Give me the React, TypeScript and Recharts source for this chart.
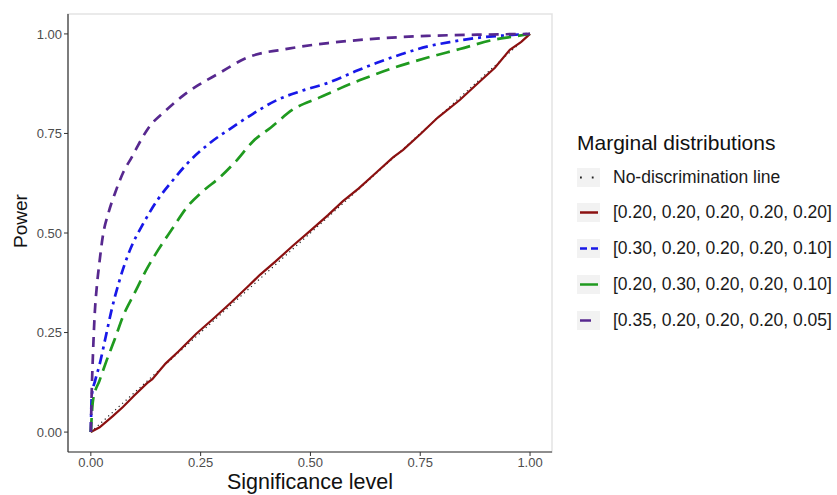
import React from 'react';
import { LineChart, Line, XAxis, YAxis, ReferenceArea } from 'recharts';

const FONT = '"Liberation Sans", Arial, Helvetica, sans-serif';

// Tick values
const xTicks = [0, 0.25, 0.5, 0.75, 1];
const yTicks = [0, 0.25, 0.5, 0.75, 1];

// No-discrimination line
const diagX = [0, 1];
const diagY = [0, 1];

// [0.20, 0.20, 0.20, 0.20, 0.20]
const redX = [0, 0.02, 0.05, 0.073, 0.1, 0.128, 0.14, 0.17, 0.2, 0.24, 0.28, 0.32, 0.36, 0.385, 0.42, 0.46, 0.5, 0.54, 0.574, 0.61, 0.65, 0.688, 0.711, 0.75, 0.79, 0.84, 0.88, 0.92, 0.954, 0.98, 1.0];
const redY = [0, 0.012, 0.04, 0.063, 0.093, 0.123, 0.133, 0.172, 0.203, 0.247, 0.286, 0.326, 0.368, 0.395, 0.428, 0.468, 0.506, 0.545, 0.58, 0.612, 0.652, 0.69, 0.709, 0.748, 0.79, 0.834, 0.875, 0.915, 0.96, 0.98, 1.0];

// [0.30, 0.20, 0.20, 0.20, 0.10]
const blueX = [0, 0.002, 0.01, 0.02, 0.033, 0.048, 0.065, 0.089, 0.12, 0.15, 0.185, 0.22, 0.27, 0.323, 0.37, 0.424, 0.48, 0.54, 0.6, 0.65, 0.71, 0.765, 0.82, 0.88, 0.94, 1.0];
const blueY = [0, 0.09, 0.13, 0.17, 0.235, 0.31, 0.38, 0.457, 0.525, 0.58, 0.63, 0.675, 0.725, 0.766, 0.8, 0.834, 0.857, 0.877, 0.905, 0.927, 0.95, 0.968, 0.98, 0.99, 0.996, 1.0];

// [0.20, 0.30, 0.20, 0.20, 0.10]
const greenX = [0, 0.005, 0.02, 0.036, 0.055, 0.073, 0.1, 0.125, 0.153, 0.185, 0.219, 0.255, 0.294, 0.33, 0.369, 0.41, 0.46, 0.52, 0.613, 0.69, 0.765, 0.84, 0.916, 0.96, 1.0];
const greenY = [0, 0.08, 0.13, 0.18, 0.235, 0.29, 0.35, 0.405, 0.457, 0.51, 0.565, 0.605, 0.64, 0.68, 0.73, 0.765, 0.81, 0.84, 0.884, 0.915, 0.94, 0.962, 0.985, 0.993, 1.0];

// [0.35, 0.20, 0.20, 0.20, 0.05]
const purpleX = [0, 0.002, 0.005, 0.009, 0.014, 0.02, 0.027, 0.04, 0.055, 0.075, 0.093, 0.105, 0.13, 0.173, 0.21, 0.24, 0.29, 0.355, 0.45, 0.54, 0.65, 0.765, 0.88, 1.0];
const purpleY = [0, 0.1, 0.2, 0.3, 0.37, 0.43, 0.49, 0.55, 0.6, 0.655, 0.69, 0.715, 0.762, 0.81, 0.845, 0.868, 0.9, 0.94, 0.963, 0.977, 0.988, 0.995, 0.998, 1.0];

const legendTitle = 'Marginal distributions';
const seriesNames = [
  'No-discrimination line',
  '[0.20, 0.20, 0.20, 0.20, 0.20]',
  '[0.30, 0.20, 0.20, 0.20, 0.10]',
  '[0.20, 0.30, 0.20, 0.20, 0.10]',
  '[0.35, 0.20, 0.20, 0.20, 0.05]',
];

const toPoints = (xs: number[], ys: number[]) => xs.map((x, i) => ({ x, y: ys[i] }));

const series = [
  { name: seriesNames[0], data: toPoints(diagX, diagY), curve: 'linear', color: '#222222', width: 1.2, dash: '1.2 3.5', keyDash: '1.8 10', keyWidth: 2 },
  { name: seriesNames[1], data: toPoints(redX, redY), curve: 'linear', color: '#8b1010', width: 2.2, dash: undefined, keyDash: undefined, keyWidth: 2.5 },
  { name: seriesNames[2], data: toPoints(blueX, blueY), curve: 'monotoneX', color: '#1818e8', width: 2.7, dash: '10 5 3 5', keyDash: '7 4', keyWidth: 2.5 },
  { name: seriesNames[3], data: toPoints(greenX, greenY), curve: 'monotoneX', color: '#1f9a1f', width: 2.7, dash: '14 7', keyDash: undefined, keyWidth: 2.5 },
  { name: seriesNames[4], data: toPoints(purpleX, purpleY), curve: 'monotoneX', color: '#57288f', width: 2.7, dash: '10 7', keyDash: '11 20', keyWidth: 2.5 },
];

const fmt = (v: number) => v.toFixed(2);

const XTitle = (props: any) => {
  const vb = props.viewBox;
  return (
    <text x={vb.x + vb.width / 2} y={489} textAnchor="middle" fontSize={21.5} fontFamily={FONT} fill="#111">
      Significance level
    </text>
  );
};

const YTitle = () => (
  <text x={27} y={221} transform="rotate(-90, 27, 221)" textAnchor="middle" fontSize={19} fontFamily={FONT} fill="#111">
    Power
  </text>
);

const LegendBox = () => (
  <div style={{ position: 'absolute', left: 577, top: 0, fontFamily: FONT }}>
    <div style={{ position: 'absolute', top: 131, left: 0, fontSize: 21, lineHeight: '24px', whiteSpace: 'nowrap', color: '#111' }}>
      {legendTitle}
    </div>
    {series.map((s, i) => (
      <div
        key={s.name}
        style={{ position: 'absolute', left: 0, top: 177 + i * 35.8 - 10, height: 20, display: 'flex', alignItems: 'center', whiteSpace: 'nowrap' }}
      >
        <svg width={23} height={19} style={{ display: 'block' }}>
          <rect x={0} y={0} width={23} height={19} fill="#f2f2f2" />
          <line x1={3} x2={21} y1={9.5} y2={9.5} stroke={s.color} strokeWidth={s.keyWidth} strokeDasharray={s.keyDash} />
        </svg>
        <span style={{ marginLeft: 13, fontSize: 17.5, color: '#1a1a1a' }}>{s.name}</span>
      </div>
    ))}
  </div>
);

export default function App() {
  return (
    <div style={{ position: 'absolute', left: 0, top: 0, width: 837, height: 495, background: '#fff' }}>
      <LineChart width={837} height={495} margin={{ top: 14, right: 285, bottom: 0, left: 0 }}>
        <XAxis
          dataKey="x"
          type="number"
          domain={[-0.052, 1.05]}
          allowDataOverflow
          ticks={xTicks}
          tickFormatter={fmt}
          height={43}
          tickSize={4}
          tick={{ fill: '#4d4d4d', fontSize: 13, fontFamily: FONT }}
          tickLine={{ stroke: '#333' }}
          axisLine={{ stroke: '#333', strokeWidth: 1.2 }}
          label={<XTitle />}
        />
        <YAxis
          dataKey="y"
          type="number"
          domain={[-0.05, 1.05]}
          allowDataOverflow
          ticks={yTicks}
          tickFormatter={fmt}
          width={68}
          tickSize={4}
          tick={{ fill: '#4d4d4d', fontSize: 13, fontFamily: FONT }}
          tickLine={{ stroke: '#333' }}
          axisLine={{ stroke: '#333', strokeWidth: 1.2 }}
          label={<YTitle />}
        />
        <ReferenceArea x1={-0.052} x2={1.05} y1={-0.05} y2={1.05} fill="none" stroke="#e3e3e3" strokeWidth={1.5} ifOverflow="visible" />
        {series.map((s) => (
          <Line
            key={s.name}
            data={s.data}
            dataKey="y"
            name={s.name}
            type={s.curve as any}
            stroke={s.color}
            strokeWidth={s.width}
            strokeDasharray={s.dash}
            dot={false}
            activeDot={false}
            isAnimationActive={false}
          />
        ))}
      </LineChart>
      <LegendBox />
    </div>
  );
}
